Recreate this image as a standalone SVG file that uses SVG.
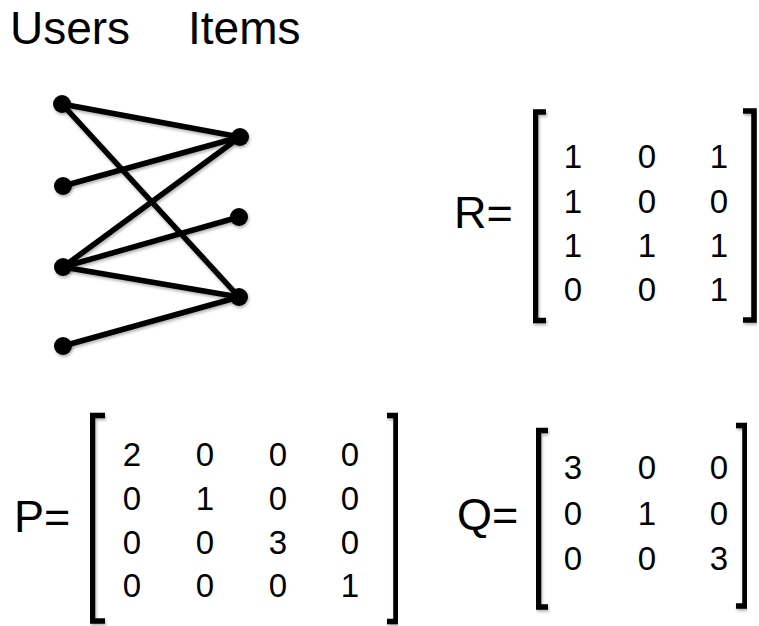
<svg xmlns="http://www.w3.org/2000/svg" width="759" height="626" viewBox="0 0 759 626">
  <defs>
    <filter id="soft" x="-20%" y="-20%" width="140%" height="140%">
      <feDropShadow dx="1" dy="2" stdDeviation="1.5" flood-color="#000" flood-opacity="0.3"/>
    </filter>
    <style>
      .title { font-family: "Liberation Sans", Arial, sans-serif; font-size: 46px; fill: #000; }
      .label { font-family: "Liberation Sans", Arial, sans-serif; font-size: 45px; fill: #000; }
      .num { font-family: "Liberation Sans", Arial, sans-serif; font-size: 33px; fill: #000; text-anchor: middle; }
      .edge { stroke: #000; stroke-width: 5.5; stroke-linecap: round; fill: none; }
      .dot { fill: #000; }
      .bracket { stroke: #000; stroke-width: 5.5; fill: none; stroke-linejoin: miter; stroke-linecap: butt; }
    </style>
  </defs>

  <rect width="759" height="626" fill="#fff"/>

  <!-- column headings -->
  <text class="title" x="10" y="44">Users</text>
  <text class="title" x="188" y="44">Items</text>

  <!-- bipartite user-item graph -->
  <g id="connectors" filter="url(#soft)">
    <line class="edge" x1="62" y1="104" x2="240" y2="137"/>
    <line class="edge" x1="62" y1="104" x2="239" y2="297"/>
    <line class="edge" x1="63" y1="186" x2="240" y2="137"/>
    <line class="edge" x1="63" y1="267" x2="240" y2="137"/>
    <line class="edge" x1="63" y1="267" x2="239" y2="217"/>
    <line class="edge" x1="63" y1="267" x2="239" y2="297"/>
    <line class="edge" x1="63" y1="346" x2="239" y2="297"/>
  </g>
  <g id="user1" filter="url(#soft)"><circle class="dot" cx="62" cy="104" r="9"/></g>
  <g id="user2" filter="url(#soft)"><circle class="dot" cx="63" cy="186" r="9"/></g>
  <g id="user3" filter="url(#soft)"><circle class="dot" cx="63" cy="267" r="9"/></g>
  <g id="user4" filter="url(#soft)"><circle class="dot" cx="63" cy="346" r="9"/></g>
  <g id="item1" filter="url(#soft)"><circle class="dot" cx="240" cy="137" r="9"/></g>
  <g id="item2" filter="url(#soft)"><circle class="dot" cx="239" cy="217" r="9"/></g>
  <g id="item3" filter="url(#soft)"><circle class="dot" cx="239" cy="297" r="9"/></g>

  <!-- R: user-item relation matrix -->
  <g id="matrix-R">
    <text class="label" x="454" y="228">R=</text>
    <path class="bracket" filter="url(#soft)" d="M546,112 H535.5 V320.5 H546"/>
    <path class="bracket" filter="url(#soft)" d="M743,111 H754 V320 H743"/>
    <text class="num" x="573" y="168">1</text><text class="num" x="647" y="168">0</text><text class="num" x="719" y="168">1</text>
    <text class="num" x="573" y="213">1</text><text class="num" x="647" y="213">0</text><text class="num" x="719" y="213">0</text>
    <text class="num" x="573" y="257">1</text><text class="num" x="647" y="257">1</text><text class="num" x="719" y="257">1</text>
    <text class="num" x="573" y="301">0</text><text class="num" x="647" y="301">0</text><text class="num" x="719" y="301">1</text>
  </g>

  <!-- P: user degree matrix -->
  <g id="matrix-P">
    <text class="label" x="14" y="532">P=</text>
    <path class="bracket" filter="url(#soft)" d="M105,415.5 H92.5 V621 H105"/>
    <path class="bracket" filter="url(#soft)" d="M387,415.5 H396 V621.5 H387"/>
    <text class="num" x="132" y="466">2</text><text class="num" x="205" y="466">0</text><text class="num" x="278" y="466">0</text><text class="num" x="350" y="466">0</text>
    <text class="num" x="132" y="510">0</text><text class="num" x="205" y="510">1</text><text class="num" x="278" y="510">0</text><text class="num" x="350" y="510">0</text>
    <text class="num" x="132" y="554">0</text><text class="num" x="205" y="554">0</text><text class="num" x="278" y="554">3</text><text class="num" x="350" y="554">0</text>
    <text class="num" x="132" y="597">0</text><text class="num" x="205" y="597">0</text><text class="num" x="278" y="597">0</text><text class="num" x="350" y="597">1</text>
  </g>

  <!-- Q: item degree matrix -->
  <g id="matrix-Q">
    <text class="label" x="457" y="530">Q=</text>
    <path class="bracket" filter="url(#soft)" d="M548,430.5 H538.5 V607 H548"/>
    <path class="bracket" filter="url(#soft)" d="M736,425.5 H745 V606 H736"/>
    <text class="num" x="573" y="479">3</text><text class="num" x="647" y="479">0</text><text class="num" x="719" y="479">0</text>
    <text class="num" x="573" y="525">0</text><text class="num" x="647" y="525">1</text><text class="num" x="719" y="525">0</text>
    <text class="num" x="573" y="570">0</text><text class="num" x="647" y="570">0</text><text class="num" x="719" y="570">3</text>
  </g>
</svg>
